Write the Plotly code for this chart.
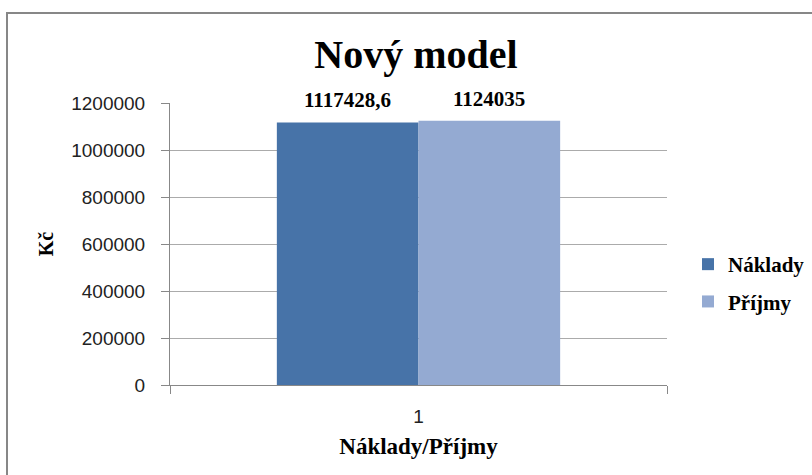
import plotly.graph_objects as go

categories = ["1"]
series_names = ["Náklady", "Příjmy"]
naklady = [1117428.6]
prijmy = [1124035]
label_texts = ["1117428,6", "1124035"]
colors = ["#4773A8", "#94AAD2"]
y_ticks = [0, 200000, 400000, 600000, 800000, 1000000, 1200000]
y_tick_labels = [str(v) for v in y_ticks]

serif = "Liberation Serif, Times New Roman, serif"
sans = "Liberation Sans, Arial, sans-serif"

# plot area in pixels
W, H = 812, 475
L, R, T, B = 170, 145, 103, 90
pw, ph = W - L - R, H - T - B

fig = go.Figure()
for name, vals, col in zip(series_names, [naklady, prijmy], colors):
    fig.add_trace(go.Bar(x=categories, y=vals, name=name, marker_color=col,
                         marker_line_width=0, legendgroup=name))

bar_w = (1 - 0.43) / 2
for i, (vals, txt) in enumerate(zip([naklady, prijmy], label_texts)):
    fig.add_annotation(x=(i - 0.5) * bar_w, y=vals[0], xref="x", yref="y",
                       text=f"<b>{txt}</b>", showarrow=False, yanchor="bottom",
                       yshift=8, font=dict(family=serif, size=21, color="#000"))

def px_to_paper_x(px):
    return (px - L) / pw

def px_to_paper_y(py):
    return (H - B - py) / ph

# outer chart border (top and left visible)
bx0, by0 = px_to_paper_x(7), px_to_paper_y(13)
bx1, by1 = px_to_paper_x(W + 5), px_to_paper_y(H + 5)
fig.add_shape(type="path", xref="paper", yref="paper",
              path=f"M {bx1},{by0} L {bx0},{by0} L {bx0},{by1}",
              line=dict(color="#878787", width=2))

fig.update_layout(
    width=W, height=H,
    margin=dict(l=L, r=R, t=T, b=B, autoexpand=False),
    paper_bgcolor="white", plot_bgcolor="white",
    barmode="group", bargap=0.43, bargroupgap=0,
    title=dict(text="<b>Nový model</b>", x=416 / W, xanchor="center",
               y=1 - 54 / H, yanchor="middle",
               font=dict(family=serif, size=40, color="#000")),
    legend=dict(x=px_to_paper_x(688), xanchor="left", y=px_to_paper_y(283),
                yanchor="middle",
                font=dict(family=serif, size=21, color="#000", weight="bold"),
                tracegroupgap=7, traceorder="grouped", bgcolor="rgba(0,0,0,0)"),
    xaxis=dict(type="category", showgrid=False, showline=True, linecolor="#888",
               linewidth=1, ticks="outside", tickson="boundaries", ticklen=8,
               tickcolor="#888", ticklabelstandoff=14,
               tickfont=dict(family=sans, size=19, color="#222"),
               title=dict(text="<b>Náklady/Příjmy</b>", standoff=12,
                          font=dict(family=serif, size=23, color="#000"))),
    yaxis=dict(range=[0, 1200000], tickvals=y_ticks, ticktext=y_tick_labels,
               showgrid=True,
               gridcolor="#ABABAB", gridwidth=1, showline=True, linecolor="#888",
               linewidth=1, ticks="outside", ticklen=8, tickcolor="#888",
               ticklabelstandoff=12, zeroline=False,
               tickfont=dict(family=sans, size=19, color="#222"),
               title=dict(text="<b>Kč</b>", standoff=12,
                          font=dict(family=serif, size=20, color="#000"))),
)

fig.write_html("out.html", config={"displayModeBar": False},
               post_script="document.body.style.margin='0';")
